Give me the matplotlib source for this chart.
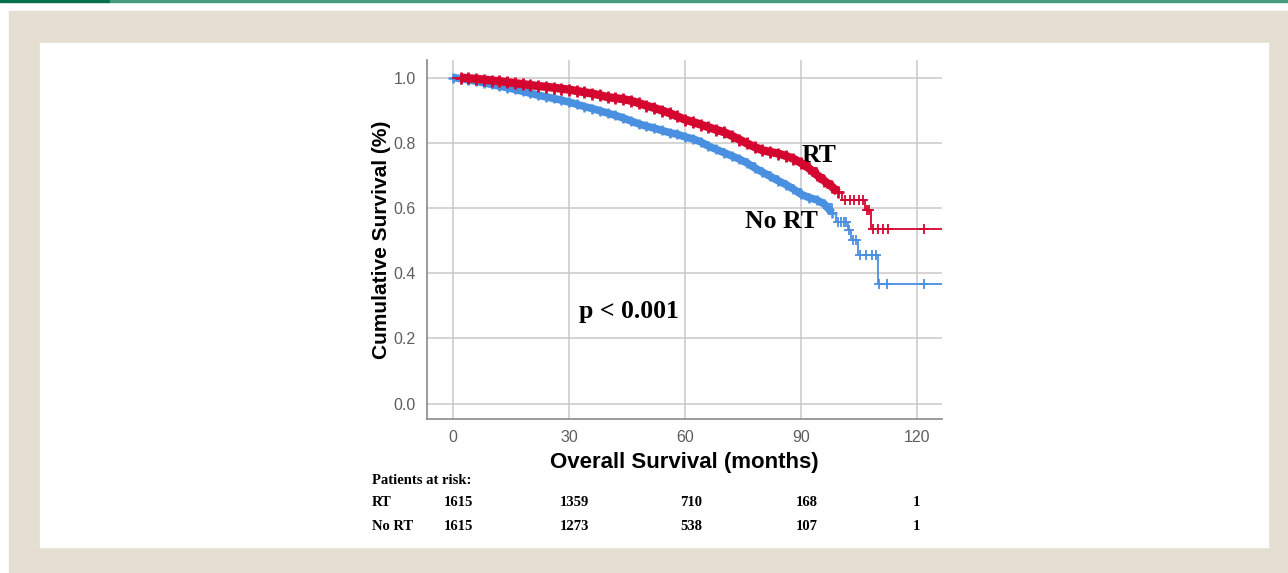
import numpy as np
import matplotlib
matplotlib.use("Agg")
import matplotlib.pyplot as plt
from matplotlib.patches import Rectangle
from matplotlib.transforms import blended_transform_factory

# Kaplan-Meier curves (months, survival)
rt_time = [0, 2, 4, 6, 8, 10, 12, 14, 16, 18, 20, 22, 24, 26, 28, 30, 32, 34, 36,
           38, 40, 42, 44, 46, 48, 50, 52, 54, 56, 58, 60, 62, 64, 66, 68, 70, 72,
           74, 76, 78, 80, 82, 84, 86, 88, 90, 92, 94, 96, 98, 99.5, 100.5, 106.5, 108]
rt_surv = [1.0, 1.0, 0.998, 0.996, 0.994, 0.991, 0.989, 0.986, 0.983, 0.980, 0.977,
           0.974, 0.972, 0.969, 0.966, 0.963, 0.959, 0.955, 0.951, 0.946, 0.940,
           0.937, 0.934, 0.929, 0.922, 0.914, 0.907, 0.899, 0.891, 0.881, 0.871,
           0.864, 0.856, 0.848, 0.840, 0.833, 0.822, 0.810, 0.798, 0.787, 0.777,
           0.772, 0.767, 0.760, 0.751, 0.738, 0.722, 0.702, 0.683, 0.665, 0.648,
           0.625, 0.594, 0.535]
rt_censor_sparse = [101.3, 102.5, 103.7, 104.9, 106.0, 106.9, 107.6,
                    108.5, 109.8, 111.1, 112.4, 121.7]

nort_time = [0, 2, 4, 6, 8, 10, 12, 14, 16, 18, 20, 22, 24, 26, 28, 30, 32, 34, 36,
             38, 40, 42, 44, 46, 48, 50, 52, 54, 56, 58, 60, 62, 64, 66, 68, 70, 72,
             74, 76, 78, 80, 82, 84, 86, 88, 90, 92, 94, 96, 98, 99, 102, 103, 104.8, 109.8]
nort_surv = [1.0, 0.997, 0.993, 0.989, 0.984, 0.979, 0.974, 0.969, 0.964, 0.958,
             0.952, 0.946, 0.941, 0.936, 0.931, 0.925, 0.918, 0.911, 0.905, 0.898,
             0.891, 0.884, 0.876, 0.867, 0.858, 0.851, 0.845, 0.838, 0.831, 0.826,
             0.818, 0.812, 0.803, 0.790, 0.780, 0.770, 0.760, 0.750, 0.738, 0.723,
             0.710, 0.697, 0.684, 0.672, 0.658, 0.642, 0.632, 0.625, 0.612, 0.585,
             0.557, 0.532, 0.502, 0.455, 0.366]
nort_censor_sparse = [99.6, 100.3, 101.0, 101.6, 102.4, 103.4, 104.1,
                      105.2, 106.7, 108.3, 109.3, 110.0, 112.1, 121.7]

# numbers at risk
risk_months = [0, 30, 60, 90, 120]
risk_rt = [1615, 1359, 710, 168, 1]
risk_nort = [1615, 1273, 538, 107, 1]

RED = "#d4062f"
BLUE = "#4a90e0"
W, H = 1288, 573


def step_value(times, surv, t):
    idx = np.searchsorted(times, t, side="right") - 1
    return np.array(surv)[idx]


fig = plt.figure(figsize=(W / 100, H / 100), dpi=100)
fig.patch.set_facecolor("white")


def fig_rect(x0, y0, x1, y1, color):
    fig.patches.append(Rectangle((x0 / W, 1 - y1 / H), (x1 - x0) / W, (y1 - y0) / H,
                                 transform=fig.transFigure, color=color, zorder=-10))


# page frame
fig_rect(9, 11, W, H, "#e5dfd2")
fig_rect(40, 43, 1268, 547, "white")
fig_rect(0, 0, 110, 2, "#06704c")
fig_rect(110, 0, W, 2, "#479b7b")

ax = fig.add_axes([427 / W, 1 - 419 / H, (942 - 427) / W, (419 - 60) / H])
ax.set_zorder(5)
ax.patch.set_alpha(0)
ax.set_xlim(-6.7, 126.4)
ax.set_ylim(-0.0475, 1.054)

serif = ["Liberation Serif", "DejaVu Serif"]
sans = ["Liberation Sans", "DejaVu Sans"]

ax.set_xticks(risk_months)
ax.set_xticklabels([str(m) for m in risk_months], family=sans)
ax.set_yticks([0.0, 0.2, 0.4, 0.6, 0.8, 1.0])
ax.set_yticklabels(["0.0", "0.2", "0.4", "0.6", "0.8", "1.0"], family=sans)
ax.grid(True, color="#c9c9c9", linewidth=1.1)
ax.set_axisbelow(True)
ax.tick_params(length=0, labelsize=11.5, labelcolor="#5e5e5e", pad=8)
for s in ["top", "right"]:
    ax.spines[s].set_visible(False)
for s in ["left", "bottom"]:
    ax.spines[s].set_color("#8a8a8a")
    ax.spines[s].set_linewidth(1.2)

# curves
ax.step(nort_time + [126.4], nort_surv + [nort_surv[-1]], where="post",
        color=BLUE, linewidth=1.3, zorder=3)
ax.plot(nort_time[:50], nort_surv[:50], color=BLUE, linewidth=5.5, zorder=3,
        solid_capstyle="butt")
ax.plot(nort_time[:50], nort_surv[:50], "+", color=BLUE, markersize=7.5, mew=1.8, zorder=3)
ax.plot(nort_censor_sparse, step_value(nort_time, nort_surv, nort_censor_sparse), "+",
        color=BLUE, markersize=7, mew=1.3, zorder=3)

ax.step(rt_time + [126.4], rt_surv + [rt_surv[-1]], where="post",
        color=RED, linewidth=1.3, zorder=4)
ax.plot(rt_time[1:51], rt_surv[1:51], color=RED, linewidth=6, zorder=4,
        solid_capstyle="butt")
ax.plot(rt_time[1:51], rt_surv[1:51], "+", color=RED, markersize=8, mew=2, zorder=4)
ax.plot(rt_censor_sparse, step_value(rt_time, rt_surv, rt_censor_sparse), "+",
        color=RED, markersize=7, mew=1.3, zorder=4)

ax.text(94.5, 0.762, "RT", family=serif, fontweight="bold", fontsize=18.5,
        ha="center", va="center")
ax.text(85.0, 0.560, "No RT", family=serif, fontweight="bold", fontsize=18.5,
        ha="center", va="center")
ax.text(45.5, 0.282, "p < 0.001", family=serif, fontweight="bold", fontsize=18.5,
        ha="center", va="center")

ax.set_xlabel("Overall Survival (months)", family=sans, fontweight="bold",
              fontsize=16, labelpad=5)
ax.set_ylabel("Cumulative Survival (%)", family=sans, fontweight="bold",
              fontsize=15, labelpad=2)

# patients at risk table
tr = blended_transform_factory(ax.transData, fig.transFigure)
for label, ypix in [("Patients at risk:", 480), ("RT", 503), ("No RT", 526)]:
    fig.text(372 / W, 1 - ypix / H, label, family=serif, fontweight="bold",
             fontsize=10.5, ha="left", va="center")
for m, a, b in zip(risk_months, risk_rt, risk_nort):
    xoff = 1.5 if m < 120 else -0.2
    ax.text(m + xoff, 1 - 503 / H, str(a), transform=tr, family=serif,
            fontweight="bold", fontsize=10.5, ha="center", va="center", clip_on=False)
    ax.text(m + xoff, 1 - 526 / H, str(b), transform=tr, family=serif,
            fontweight="bold", fontsize=10.5, ha="center", va="center", clip_on=False)

fig.savefig("out.png", dpi=100)
